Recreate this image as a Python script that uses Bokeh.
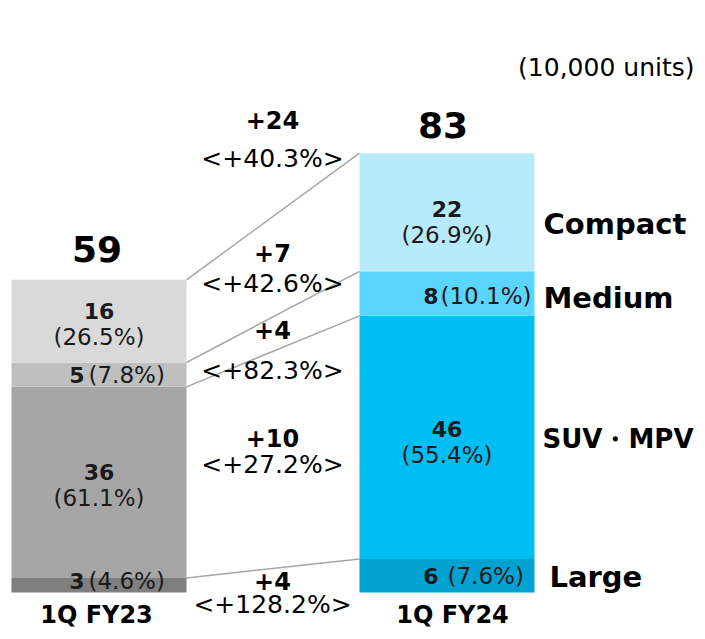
from bokeh.plotting import figure
from bokeh.models import Range1d, ColumnDataSource
from bokeh.core.properties import value
from bokeh.embed import file_html
from bokeh.resources import INLINE

# ---------------- data ----------------
periods = ["1Q FY23", "1Q FY24"]
segments = ["Large", "SUV・MPV", "Medium", "Compact"]          # bottom -> top
fy23 = [2.75, 36.05, 4.6, 15.6]
fy24 = [6.3, 45.9, 8.4, 22.3]
fy23_num = ["3", "36", "5", "16"]
fy23_pct = ["(4.6%)", "(61.1%)", "(7.8%)", "(26.5%)"]
fy24_num = ["6", "46", "8", "22"]
fy24_pct = ["(7.6%)", "(55.4%)", "(10.1%)", "(26.9%)"]
totals = ["59", "83"]
delta_abs = ["+24", "+7", "+4", "+10", "+4"]                 # total, Compact, Medium, SUV, Large
delta_pct = ["<+40.3%>", "<+42.6%>", "<+82.3%>", "<+27.2%>", "<+128.2%>"]
unit_label = "(10,000 units)"

colors23 = ["#7f7f7f", "#a6a6a6", "#bfbfbf", "#d9d9d9"]
colors24 = ["#00a2d2", "#00bdf2", "#5bd5fe", "#b7ebfc"]

# ---------------- layout ----------------
W, H = 697, 631
S = 5.3            # px per unit
BASE = 592         # picture y of zero


def py(pic_y):
    return (BASE - pic_y) / S


FONT = value("DejaVu Sans")
x23, x24, bw = 98.5, 446.5, 175

p = figure(width=W, height=H, output_backend="svg", toolbar_location=None,
           x_range=Range1d(0, W), y_range=Range1d(py(H), py(0)),
           min_border=0, x_axis_location=None, y_axis_location=None)
p.outline_line_color = None
p.xgrid.visible = False
p.ygrid.visible = False
p.background_fill_color = "white"
p.border_fill_color = "white"


def stack(vals):
    bots, tops, c = [], [], 0.0
    for v in vals:
        bots.append(c)
        c += v
        tops.append(c)
    return bots, tops


b23, t23 = stack(fy23)
b24, t24 = stack(fy24)

# connector lines
p.segment(x0=[x23 + bw / 2] * 4, y0=t23, x1=[x24 - bw / 2] * 4, y1=t24,
          line_color="#a6a6a6", line_width=1.5)

# bars
for xc, bots, tops, cols in [(x23, b23, t23, colors23), (x24, b24, t24, colors24)]:
    src = ColumnDataSource(dict(x=[xc] * 4, bottom=bots, top=tops, color=cols))
    p.vbar(x="x", bottom="bottom", top="top", width=bw, color="color", source=src,
           line_color=None)

# in-bar labels
for xc, bots, tops, nums, pcts, side in [(x23, b23, t23, fy23_num, fy23_pct, "L"),
                                          (x24, b24, t24, fy24_num, fy24_pct, "R")]:
    for i in range(4):
        mid = (bots[i] + tops[i]) / 2
        if tops[i] - bots[i] >= 10:
            extra = 7 if (side == "R" and i == 3) else (2 if side == "R" else 0)
            p.text(x=[xc], y=[mid], text=[nums[i]], text_font=FONT, text_font_style="bold",
                   text_font_size="22px", text_align="center", text_baseline="middle",
                   y_offset=-10 + extra, text_color="#1a1a1a")
            p.text(x=[xc], y=[mid], text=[pcts[i]], text_font=FONT,
                   text_font_size="23px", text_align="center", text_baseline="middle",
                   y_offset=16 + extra, text_color="#1a1a1a")
        else:
            if side == "L":
                nx, pxx = 84, 88
            else:
                nx, pxx = 438, (440 if i == 2 else 447)
            yo = -4 if (side == "L" and i == 0) else (2 if (side == "R" and i == 2) else 0)
            p.text(x=[nx], y=[mid], text=[nums[i]], text_font=FONT, text_font_style="bold",
                   text_font_size="22px", text_align="right", text_baseline="middle",
                   y_offset=yo, text_color="#1a1a1a")
            p.text(x=[pxx], y=[mid], text=[pcts[i]], text_font=FONT,
                   text_font_size="23px", text_align="left", text_baseline="middle",
                   y_offset=yo, text_color="#1a1a1a")

# totals
p.text(x=[96.5, 442.5], y=[t23[-1], t24[-1]], text=totals, text_font=FONT,
       text_font_style="bold", text_font_size="36px", text_align="center",
       text_baseline="middle", y_offset=[-31, -28], text_color="black")

# deltas between bars
num_y = [119, 252, 329, 437, 580]
pct_y = [158, 283, 370, 464, 604]
p.text(x=[272] * 5, y=[py(v) for v in num_y], text=delta_abs, text_font=FONT,
       text_font_style="bold", text_font_size="24px", text_align="center",
       text_baseline="middle", text_color="black")
p.text(x=[272] * 5, y=[py(v) for v in pct_y], text=delta_pct, text_font=FONT,
       text_font_size="25px", text_align="center", text_baseline="middle",
       text_color="black")

# category labels
cat_x = [549, 542, 543, 543]
cat_off = [1, 2, 4, 12]
cat_size = ["29px", "26px", "29px", "29px"]
for i in range(4):
    mid = (b24[i] + t24[i]) / 2
    p.text(x=[cat_x[i]], y=[mid], text=[segments[i]], text_font=FONT,
           text_font_style="bold", text_font_size=cat_size[i], text_align="left",
           text_baseline="middle", y_offset=cat_off[i], text_color="black")

# period labels
p.text(x=[96, 452], y=[py(614)] * 2, text=periods, text_font=FONT, text_font_style="bold",
       text_font_size="24px", text_align="center", text_baseline="middle",
       text_color="black")

# unit label
p.text(x=[694], y=[py(67)], text=[unit_label], text_font=FONT, text_font_size="25px",
       text_align="right", text_baseline="middle", text_color="black")

open("out.html", "w").write(file_html(p, INLINE))
